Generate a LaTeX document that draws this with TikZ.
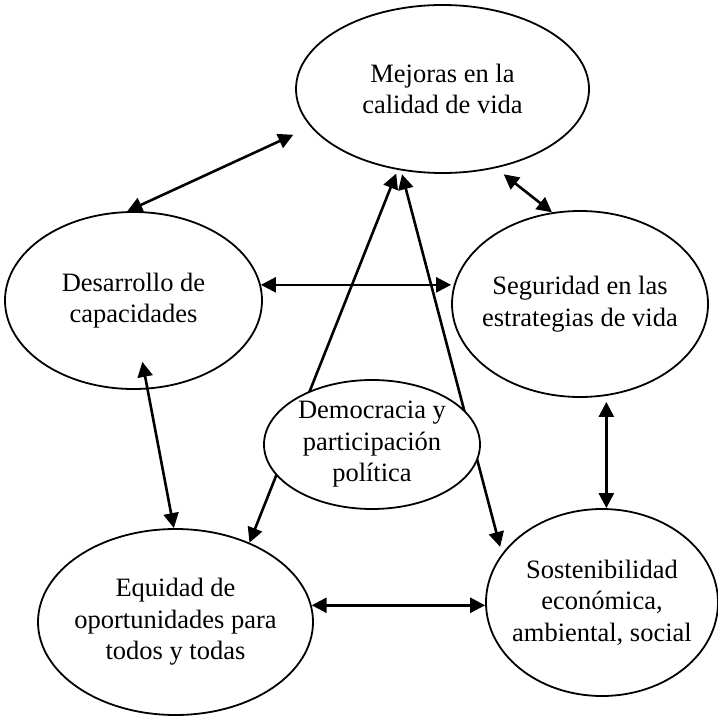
\documentclass[tikz,border=0pt]{standalone}
\usepackage{fontspec}
\setmainfont{Liberation Serif}
\usetikzlibrary{shapes.geometric,arrows.meta}
\begin{document}
\begin{tikzpicture}[x=1pt,y=-1pt,
  ell/.style={draw,ellipse,line width=1.8pt,inner sep=0pt,fill=white},
  lbl/.style={align=center,font=\fontsize{26.5pt}{31.5pt}\selectfont,inner sep=0pt},
  arr/.style={{Triangle[length=15pt,width=15pt]}-{Triangle[length=15pt,width=15pt]},line width=2.6pt}]
\useasboundingbox (0,0) rectangle (718,717);
% ellipses
\node[ell,minimum width=293pt,minimum height=168pt] (mej) at (442.5,89) {};
\node[lbl] (mejT) at (mej) {Mejoras en la\\calidad de vida};
\node[ell,minimum width=257pt,minimum height=177pt] (des) at (133.5,300.5) {};
\node[lbl] (desT) at (des) {Desarrollo de\\capacidades};
\node[ell,minimum width=256pt,minimum height=186pt] (seg) at (580,304) {};
\node[lbl] (segT) at (seg) {Seguridad en las\\estrategias de vida};
\node[ell,minimum width=275pt,minimum height=186pt] (equ) at (175.5,622) {};
\node[lbl] (equT) at (equ) {Equidad de\\oportunidades para\\todos y todas};
\node[ell,minimum width=232pt,minimum height=187pt] (sos) at (602,602.5) {};
\node[lbl] (sosT) at (sos) {Sostenibilidad\\económica,\\ambiental, social};
% connectors
\draw[arr, shorten >=19pt] (des.94) -- (mej.196);
\draw[arr, shorten >=10pt] (seg.107) -- (mej.304);
\draw[arr] (des.7) -- (seg.west |- des.7);
\draw[arr, shorten <=-28pt] (des.279) -- (equ.91);
\draw[arr, shorten <=6pt] (seg.286) -- (seg.286 |- sos.north);
\draw[arr] (equ.7) -- (sos.west |- equ.7);
\draw[arr, shorten >=4pt] (equ.47) -- (mej.241.5);
\draw[arr, shorten <=7pt, shorten >=4pt] (sos.154) -- (mej.243);
% central ellipse on top
\node[ell,minimum width=216pt,minimum height=129pt] (dem) at (372,444.5) {};
\node[lbl] (demT) at (dem) {Democracia y\\participación\\política};
\end{tikzpicture}
\end{document}
